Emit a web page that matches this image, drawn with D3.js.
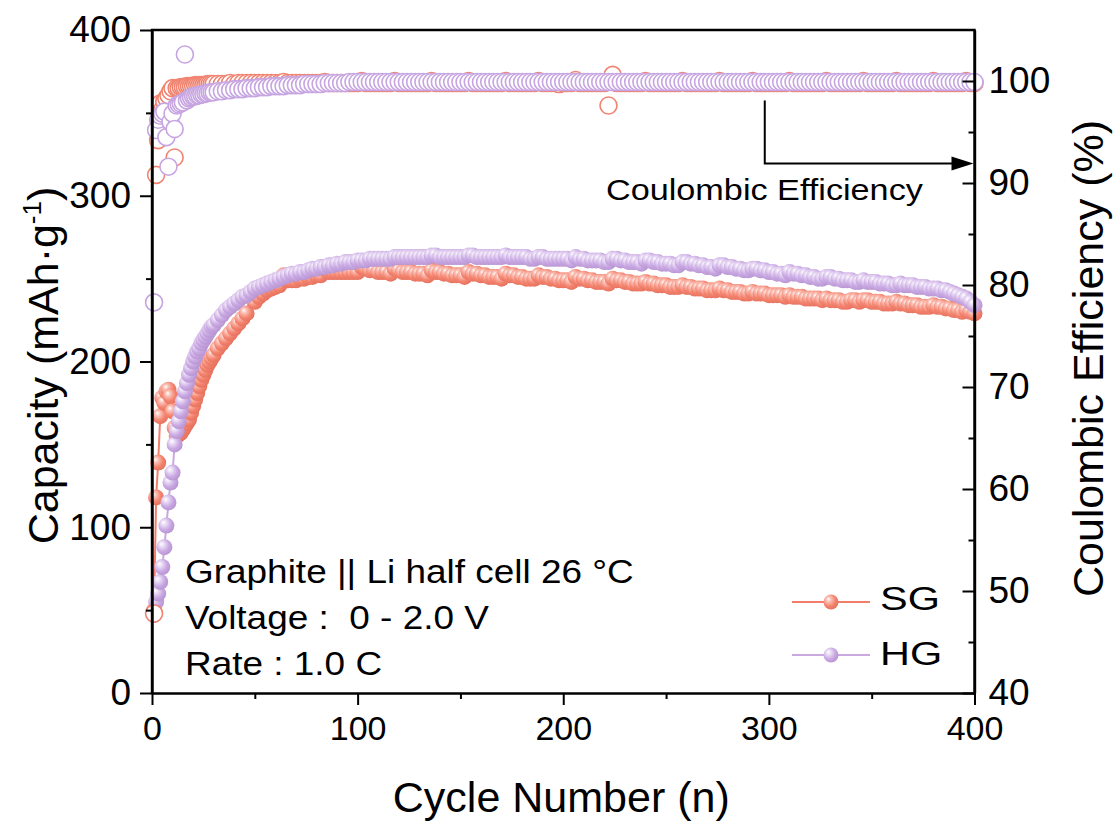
<!DOCTYPE html>
<html>
<head>
<meta charset="utf-8">
<script src="https://cdn.jsdelivr.net/npm/d3@7"></script>
<style>
  body { margin: 0; background: #ffffff; }
  text { font-family: "Liberation Sans", Arial, Helvetica, sans-serif; fill: #000; }
</style>
</head>
<body>
<svg id="chart" width="1113" height="821"></svg>
<script>
// Cycle numbers: every cycle up to 30, then every second cycle up to 400
const cycles = d3.range(1, 31).concat(d3.range(32, 401, 2));

// Discharge capacity (mAh/g)
const sgCapacity = [
  50,118,139,167,178,175,182,183,179,170,160,155,156,157,159,161,163,165,169,173,177,181,185,189,192,195,198,200,202,204,
  208,211,214,217,220,223,226,229,240,236,
  239,241,243,244,245,246,252,249,249,249,
  250,250,251,251,252,252,256,254,254,254,
  254,254,254,254,254,257,256,255,255,254,
  254,254,253,256,255,254,254,254,253,253,
  253,252,255,254,254,253,253,252,252,252,
  251,254,253,253,252,252,251,251,251,250,
  253,252,252,251,251,250,250,250,252,251,
  251,250,250,249,249,249,248,251,250,250,
  249,249,248,248,248,247,250,249,249,248,
  248,247,247,247,248,247,247,246,246,246,
  245,245,245,246,245,245,244,244,244,243,
  243,243,244,243,243,242,242,242,241,241,
  242,241,241,241,240,240,240,240,239,240,
  239,239,239,238,238,238,238,237,238,237,
  237,237,236,236,237,237,236,237,237,236,
  236,236,235,235,235,236,235,235,234,234,
  234,233,233,233,234,233,233,232,232,231,
  231,230,231,230,229
];
const hgCapacity = [
  47,55,60,67,76,88,101,115,127,133,150,158,164,170,176,182,187,192,196,200,203,206,208,211,213,215,217,219,221,222,
  225,228,231,233,235,237,239,240,242,244,
  245,246,247,248,249,250,251,252,253,253,
  254,254,255,256,256,257,257,258,258,259,
  259,260,260,260,261,261,261,262,262,262,
  262,262,262,263,263,263,263,263,263,263,
  263,263,264,264,263,263,263,263,263,263,
  263,264,264,263,263,263,263,263,263,263,
  264,263,263,263,263,263,262,262,263,263,
  262,262,262,262,262,262,261,263,262,262,
  261,261,261,261,260,260,262,262,261,261,
  260,260,260,259,261,261,260,260,259,259,
  259,258,258,260,260,259,259,258,258,257,
  257,256,258,258,257,257,256,256,255,255,
  256,256,255,255,254,254,253,253,252,254,
  253,253,252,252,251,251,250,250,251,251,
  250,250,249,249,249,248,248,249,248,248,
  248,247,247,247,246,246,247,246,246,246,
  245,245,245,244,244,244,243,243,242,241,
  240,239,238,236,234
];

// Coulombic efficiency (%)
const sgEfficiency = [
  47.8,90.8,94.2,97.8,97.2,98.0,98.3,98.6,99.0,99.3,92.5,99.3,99.3,99.4,99.4,99.4,99.5,99.5,99.5,99.5,99.6,99.6,99.6,99.6,99.6,99.6,99.7,99.7,99.7,99.7,
  99.7,99.7,99.7,99.8,99.7,99.8,99.8,99.8,99.8,99.8,
  99.8,99.8,99.8,99.8,99.8,99.8,99.9,99.8,99.8,99.8,
  99.8,99.8,99.8,99.8,99.8,99.8,99.9,99.8,99.8,99.8,
  99.8,99.8,99.8,99.8,99.8,100.0,99.8,99.8,99.8,99.8,
  99.8,99.8,99.8,100.0,99.8,99.8,99.8,99.8,99.8,99.8,
  99.8,99.8,100.0,99.8,99.8,99.8,99.8,99.8,99.8,99.8,
  99.8,100.0,99.8,99.8,99.8,99.8,99.8,99.8,99.8,99.8,
  100.0,99.8,99.8,99.8,99.8,99.8,99.8,99.8,100.0,99.8,
  99.8,99.8,99.8,99.7,99.8,99.8,99.8,100.1,99.8,99.8,
  99.8,99.8,99.8,99.8,99.8,97.6,100.6,99.8,99.8,99.8,
  99.8,99.8,99.8,99.8,100.0,99.8,99.8,99.8,99.8,99.8,
  99.8,99.8,99.8,100.0,99.8,99.8,99.8,99.8,99.8,99.8,
  99.8,99.8,100.0,99.8,99.8,99.8,99.8,99.8,99.8,99.8,
  100.0,99.8,99.8,99.8,99.8,99.8,99.8,99.8,99.8,100.0,
  99.8,99.8,99.8,99.8,99.8,99.8,99.8,99.8,100.0,99.8,
  99.8,99.8,99.8,99.8,99.8,99.8,99.8,100.0,99.8,99.8,
  99.8,99.8,99.8,99.8,99.8,100.0,99.8,99.8,99.8,99.8,
  99.8,99.8,99.8,99.8,100.0,99.8,99.8,99.8,99.8,99.8,
  99.8,99.8,100.0,99.8,99.8
];
const hgEfficiency = [
  78.3,95.2,96.2,96.6,96.8,97.0,94.5,91.6,96.0,96.8,95.3,97.6,97.7,97.8,97.9,102.6,98.1,98.3,98.4,98.5,98.5,98.6,98.6,98.7,98.7,98.8,98.8,98.9,98.9,98.9,
  99.0,99.0,99.1,99.1,99.2,99.2,99.2,99.3,99.3,99.3,
  99.4,99.4,99.4,99.5,99.5,99.5,99.5,99.6,99.6,99.6,
  99.6,99.7,99.7,99.7,99.7,99.7,99.8,99.8,99.8,99.8,
  99.8,99.8,99.9,99.9,99.9,99.9,99.9,99.9,99.9,99.9,
  99.9,99.9,99.9,99.9,99.9,99.9,99.9,99.9,99.9,99.9,
  99.9,99.9,99.9,99.9,99.9,99.9,99.9,99.9,99.9,99.9,
  99.9,99.9,99.9,99.9,99.9,99.9,99.9,99.9,99.9,99.9,
  99.9,99.9,99.9,99.9,99.9,99.9,99.9,99.9,99.9,99.9,
  99.9,99.9,99.9,99.9,99.9,99.9,99.9,99.9,99.9,99.9,
  99.9,99.9,99.9,99.9,99.9,99.9,99.9,99.9,99.9,99.9,
  99.9,99.9,99.9,99.9,99.9,99.9,99.9,99.9,99.9,99.9,
  99.9,99.9,99.9,99.9,99.9,99.9,99.9,99.9,99.9,99.9,
  99.9,99.9,99.9,99.9,99.9,99.9,99.9,99.9,99.9,99.9,
  99.9,99.9,99.9,99.9,99.9,99.9,99.9,99.9,99.9,99.9,
  99.9,99.9,99.9,99.9,99.9,99.9,99.9,99.9,99.9,99.9,
  99.9,99.9,99.9,99.9,99.9,99.9,99.9,99.9,99.9,99.9,
  99.9,99.9,99.9,99.9,99.9,99.9,99.9,99.9,99.9,99.9,
  99.9,99.9,99.9,99.9,99.9,99.9,99.9,99.9,99.9,99.9,
  99.9,99.9,99.9,99.9,99.9
];

// Axis ticks
const xTicks = [0, 100, 200, 300, 400];
const xMinorTicks = [50, 150, 250, 350];
const capTicks = [0, 100, 200, 300, 400];
const capMinorTicks = [50, 150, 250, 350];
const ceTicks = [40, 50, 60, 70, 80, 90, 100];
const ceMinorTicks = [45, 55, 65, 75, 85, 95];

const seriesNames = ["SG", "HG"];
const infoLines = ["Graphite || Li half cell 26 \u00B0C", "Voltage :  0 - 2.0 V", "Rate : 1.0 C"];

// ---- drawing ----
const svg = d3.select("#chart");
const plot = { left: 152, right: 974.5, top: 30, bottom: 693 };

const x = d3.scaleLinear().domain([0, 400]).range([plot.left, plot.right]);
const yCap = d3.scaleLinear().domain([0, 400]).range([plot.bottom, plot.top]);
const yCE = d3.scaleLinear().domain([40, 105]).range([plot.bottom, plot.top]);

const palette = {
  SG: { line: "#F27D6B", ring: "#F08471", stops: ["#ffffff", "#fbc2b8", "#f3836e", "#e46f5c"] },
  HG: { line: "#C9A9E0", ring: "#C7A5E1", stops: ["#ffffff", "#eadcf5", "#c8a7e2", "#b493d0"] }
};

// sphere-style marker gradients
const defs = svg.append("defs");
seriesNames.forEach(name => {
  const g = defs.append("radialGradient")
    .attr("id", "ball" + name)
    .attr("cx", 0.4).attr("cy", 0.4).attr("r", 0.65)
    .attr("fx", 0.32).attr("fy", 0.3);
  const s = palette[name].stops;
  g.append("stop").attr("offset", 0).attr("stop-color", s[0]);
  g.append("stop").attr("offset", 0.25).attr("stop-color", s[1]);
  g.append("stop").attr("offset", 0.65).attr("stop-color", s[2]);
  g.append("stop").attr("offset", 1).attr("stop-color", s[3]);
});

const build = (vals) => cycles.map((c, i) => ({ c, v: vals[i] })).filter(d => d.v !== undefined);
const capData = { SG: build(sgCapacity), HG: build(hgCapacity) };
const ceData = { SG: build(sgEfficiency), HG: build(hgEfficiency) };

const marks = svg.append("g");
const capLine = d3.line().x(d => x(d.c)).y(d => yCap(d.v));

// capacity: connecting line + shaded balls
seriesNames.forEach(name => {
  const grp = marks.append("g");
  grp.append("path")
    .datum(capData[name])
    .attr("d", capLine)
    .attr("fill", "none")
    .attr("stroke", palette[name].line)
    .attr("stroke-width", 2);
  grp.selectAll("circle")
    .data(capData[name])
    .join("circle")
    .attr("cx", d => x(d.c))
    .attr("cy", d => yCap(d.v))
    .attr("r", 8)
    .attr("fill", `url(#ball${name})`);
});

// coulombic efficiency: open rings
seriesNames.forEach(name => {
  marks.append("g").selectAll("circle")
    .data(ceData[name])
    .join("circle")
    .attr("cx", d => x(d.c))
    .attr("cy", d => yCE(d.v))
    .attr("r", 8.5)
    .attr("fill", "#ffffff")
    .attr("stroke", palette[name].ring)
    .attr("stroke-width", 1.6);
});

// ---- axes ----
const axisW = 2.4;
function styleAxis(g, fontSize) {
  g.select(".domain").attr("stroke-width", axisW).attr("stroke", "#000");
  g.selectAll(".tick line").attr("stroke-width", 2).attr("stroke", "#000");
  g.selectAll(".tick text").attr("font-size", fontSize).attr("font-family", null).style("fill", "#000");
}

const gx = svg.append("g").attr("transform", `translate(0,${plot.bottom})`)
  .call(d3.axisBottom(x).tickValues(xTicks).tickSize(12).tickSizeOuter(0).tickPadding(11).tickFormat(d3.format("d")));
styleAxis(gx, 34);
const gxm = svg.append("g").attr("transform", `translate(0,${plot.bottom})`)
  .call(d3.axisBottom(x).tickValues(xMinorTicks).tickSize(6).tickSizeOuter(0).tickFormat(""));
styleAxis(gxm, 34);
gxm.select(".domain").remove();

const gy = svg.append("g").attr("transform", `translate(${plot.left},0)`)
  .call(d3.axisLeft(yCap).tickValues(capTicks).tickSize(12).tickSizeOuter(0).tickPadding(9).tickFormat(d3.format("d")));
styleAxis(gy, 37);
const gym = svg.append("g").attr("transform", `translate(${plot.left},0)`)
  .call(d3.axisLeft(yCap).tickValues(capMinorTicks).tickSize(6).tickSizeOuter(0).tickFormat(""));
styleAxis(gym, 37);
gym.select(".domain").remove();

const gr = svg.append("g").attr("transform", `translate(${plot.right},0)`)
  .call(d3.axisRight(yCE).tickValues(ceTicks).tickSizeInner(-12).tickSizeOuter(0).tickPadding(14).tickFormat(d3.format("d")));
styleAxis(gr, 37);
const grm = svg.append("g").attr("transform", `translate(${plot.right},0)`)
  .call(d3.axisRight(yCE).tickValues(ceMinorTicks).tickSizeInner(-6).tickSizeOuter(0).tickFormat(""));
styleAxis(grm, 37);
grm.select(".domain").remove();

// top frame line
svg.append("line")
  .attr("x1", plot.left - axisW / 2).attr("x2", plot.right + axisW / 2)
  .attr("y1", plot.top).attr("y2", plot.top)
  .attr("stroke", "#000").attr("stroke-width", axisW);
// extend left/right axis lines to the frame corners
svg.append("line").attr("x1", plot.left).attr("x2", plot.left)
  .attr("y1", plot.top).attr("y2", plot.bottom + axisW / 2)
  .attr("stroke", "#000").attr("stroke-width", axisW);
svg.append("line").attr("x1", plot.right).attr("x2", plot.right)
  .attr("y1", plot.top).attr("y2", plot.bottom + axisW / 2)
  .attr("stroke", "#000").attr("stroke-width", axisW);

// axis titles
svg.append("text")
  .attr("x", (plot.left + plot.right) / 2 - 2).attr("y", 812)
  .attr("text-anchor", "middle").attr("font-size", 43)
  .text("Cycle Number (n)");

const yTitle = svg.append("text")
  .attr("transform", `translate(58,${(plot.top + plot.bottom) / 2 + 4}) rotate(-90)`)
  .attr("text-anchor", "middle").attr("font-size", 43);
yTitle.append("tspan").text("Capacity (mAh\u00B7g");
yTitle.append("tspan").attr("font-size", 26).attr("dy", -17).text("-1");
yTitle.append("tspan").attr("dy", 17).text(")");

svg.append("text")
  .attr("transform", `translate(1103,${(plot.top + plot.bottom) / 2 - 3}) rotate(-90)`)
  .attr("text-anchor", "middle").attr("font-size", 43)
  .text("Coulombic Efficiency (%)");

// horizontally widened annotation text
function wideText(px, py, str, size, sx) {
  return svg.append("text")
    .attr("transform", `translate(${px},${py}) scale(${sx},1)`)
    .attr("font-size", size)
    .style("white-space", "pre")
    .text(str);
}

infoLines.forEach((t, i) => wideText(185, 583 + i * 46, t, 33, 1.12));

// arrow pointing to the efficiency axis
svg.append("path")
  .attr("d", `M${x(298)},${yCE(98.1)} V${yCE(91.9)} H${plot.right - 20}`)
  .attr("fill", "none").attr("stroke", "#000").attr("stroke-width", 2);
svg.append("path")
  .attr("d", `M${plot.right - 1},${yCE(91.9)} l-22,-7 v14 z`)
  .attr("fill", "#000");
wideText(606, 200, "Coulombic Efficiency", 29, 1.18);

// legend
seriesNames.forEach((name, i) => {
  const ly = 602 + i * 53;
  svg.append("line")
    .attr("x1", 792).attr("x2", 870).attr("y1", ly).attr("y2", ly)
    .attr("stroke", palette[name].line).attr("stroke-width", 2.2);
  svg.append("circle")
    .attr("cx", 831).attr("cy", ly).attr("r", 7.5)
    .attr("fill", `url(#ball${name})`);
  wideText(880, ly + 8 + i * 2, name, 34, 1.22);
});
</script>
</body>
</html>
